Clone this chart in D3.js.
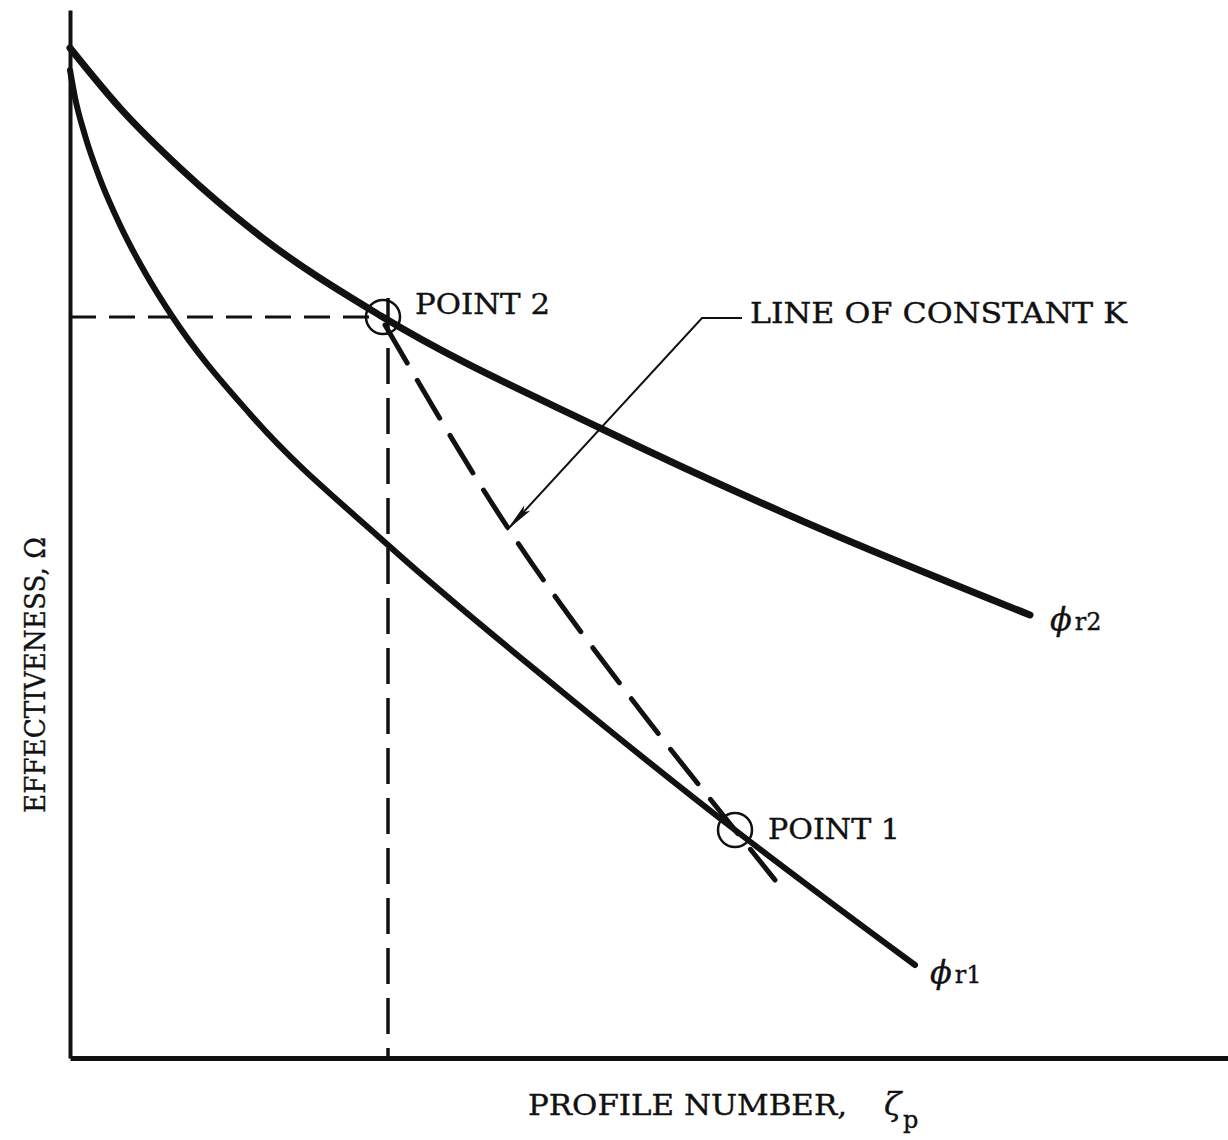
<!DOCTYPE html>
<html>
<head>
<meta charset="utf-8">
<script src="https://cdn.jsdelivr.net/npm/d3@7"></script>
<style>
  body { margin: 0; background: #fff; }
  text { font-family: "DejaVu Serif", serif; fill: #111; stroke: #111; stroke-width: 0.35; }
</style>
</head>
<body>
<svg width="1228" height="1140"></svg>
<script>
// curve readings, x = profile number, y = effectiveness (arbitrary units)
var phiR2 = [
  [0, 10.10], [0.5, 9.50], [1.1, 8.90], [1.9, 8.22], [3.11, 7.42],
  [5.3, 6.30], [7.3, 5.38], [9.6, 4.43]
];
var phiR1 = [
  [0, 9.88], [0.05, 9.605], [0.15, 9.225], [0.30, 8.79], [0.50, 8.33], [0.75, 7.855],
  [1.02, 7.42], [1.8, 6.44], [3.18, 5.13], [4.9, 3.68], [6.65, 2.28], [8.45, 0.93]
];
var constK = [
  [3.15, 7.33], [4.36, 5.33], [5.70, 3.48], [6.65, 2.28], [7.05, 1.78]
];
var point2 = [3.13, 7.41];
var point1 = [6.65, 2.28];
var guideX = 3.18;
var pointLabels = ["POINT 2", "POINT 1"];

var svg = d3.select("svg");

var x = d3.scaleLinear().domain([0, 11.58]).range([70, 1228]);
var y = d3.scaleLinear().domain([0, 10.48]).range([1058, 10]);

var line = d3.line()
    .x(function(d) { return x(d[0]); })
    .y(function(d) { return y(d[1]); })
    .curve(d3.curveMonotoneX);

// axes, bare lines without ticks
svg.append("g")
    .attr("transform", "translate(0," + y(0) + ")")
    .call(d3.axisBottom(x).tickValues([]).tickSizeOuter(0))
    .select(".domain").attr("stroke", "#111").attr("stroke-width", 5);

svg.append("g")
    .attr("transform", "translate(" + x(0) + ",0)")
    .call(d3.axisLeft(y).tickValues([]).tickSizeOuter(0))
    .select(".domain").attr("stroke", "#111").attr("stroke-width", 4);

// dashed guides from point 2
svg.append("line")
    .attr("x1", x(0)).attr("x2", x(point2[0]))
    .attr("y1", y(point2[1])).attr("y2", y(point2[1]))
    .attr("stroke", "#111").attr("stroke-width", 3)
    .attr("stroke-dasharray", "26,13");

svg.append("line")
    .attr("x1", x(guideX)).attr("x2", x(guideX))
    .attr("y1", y(7.6)).attr("y2", y(0))
    .attr("stroke", "#111").attr("stroke-width", 3.5)
    .attr("stroke-dasharray", "36,14");

// curves
svg.append("path").datum(phiR2)
    .attr("d", line).attr("fill", "none")
    .attr("stroke", "#111").attr("stroke-width", 7).attr("stroke-linecap", "round");

svg.append("path").datum(phiR1)
    .attr("d", line).attr("fill", "none")
    .attr("stroke", "#111").attr("stroke-width", 6).attr("stroke-linecap", "round");

svg.append("path").datum(constK)
    .attr("d", line).attr("fill", "none")
    .attr("stroke", "#111").attr("stroke-width", 5).attr("stroke-linecap", "round")
    .attr("stroke-dasharray", "44,20");

// point circles
svg.selectAll("circle.pt")
  .data([point2, point1])
  .enter().append("circle")
    .attr("class", "pt")
    .attr("cx", function(d) { return x(d[0]); })
    .attr("cy", function(d) { return y(d[1]); })
    .attr("r", 17)
    .attr("fill", "none")
    .attr("stroke", "#111")
    .attr("stroke-width", 2.5);

svg.append("text")
    .attr("x", x(point2[0]) + 32).attr("y", y(point2[1]) - 3)
    .attr("font-size", 27).attr("textLength", 135).attr("lengthAdjust", "spacingAndGlyphs")
    .text(pointLabels[0]);

svg.append("text")
    .attr("x", x(point1[0]) + 33).attr("y", y(point1[1]) + 9)
    .attr("font-size", 27).attr("textLength", 132).attr("lengthAdjust", "spacingAndGlyphs")
    .text(pointLabels[1]);

// leader arrow for line of constant K
svg.append("defs").append("marker")
    .attr("id", "arrow")
    .attr("viewBox", "0 0 30 10")
    .attr("refX", 30).attr("refY", 5)
    .attr("markerWidth", 30).attr("markerHeight", 10)
    .attr("markerUnits", "userSpaceOnUse")
    .attr("orient", "auto")
  .append("path")
    .attr("d", "M0,1 L30,5 L0,9 L6,5 Z")
    .attr("fill", "#111");

svg.append("path")
    .attr("d", d3.line()([[742, 318], [702, 318], [507, 530]]))
    .attr("fill", "none").attr("stroke", "#111").attr("stroke-width", 2)
    .attr("marker-end", "url(#arrow)");

svg.append("text")
    .attr("x", 750).attr("y", 323)
    .attr("font-size", 27).attr("textLength", 377).attr("lengthAdjust", "spacingAndGlyphs")
    .text("LINE OF CONSTANT K");

// curve labels
function phiLabel(px, py, sub) {
  var t = svg.append("text").attr("x", px).attr("y", py);
  t.append("tspan").attr("font-size", 32).attr("font-style", "italic").text("ϕ");
  t.append("tspan").attr("font-size", 24).attr("dx", 3).text(sub);
}
phiLabel(x(9.60) + 20, y(4.43) + 15, "r2");
phiLabel(x(8.45) + 15, y(0.93) + 18, "r1");

// axis titles
var xt = svg.append("text").attr("x", 528).attr("y", 1115);
xt.append("tspan").attr("font-size", 27).attr("textLength", 319)
    .attr("lengthAdjust", "spacingAndGlyphs").text("PROFILE NUMBER,");
xt.append("tspan").attr("x", 884).attr("font-size", 32).attr("font-style", "italic").text("ζ");
xt.append("tspan").attr("x", 903).attr("dy", 13).attr("font-size", 24).text("p");

svg.append("text")
    .attr("transform", "translate(45,813) rotate(-90)")
    .attr("font-size", 27).attr("textLength", 276).attr("lengthAdjust", "spacingAndGlyphs")
    .text("EFFECTIVENESS, Ω");
</script>
</body>
</html>
